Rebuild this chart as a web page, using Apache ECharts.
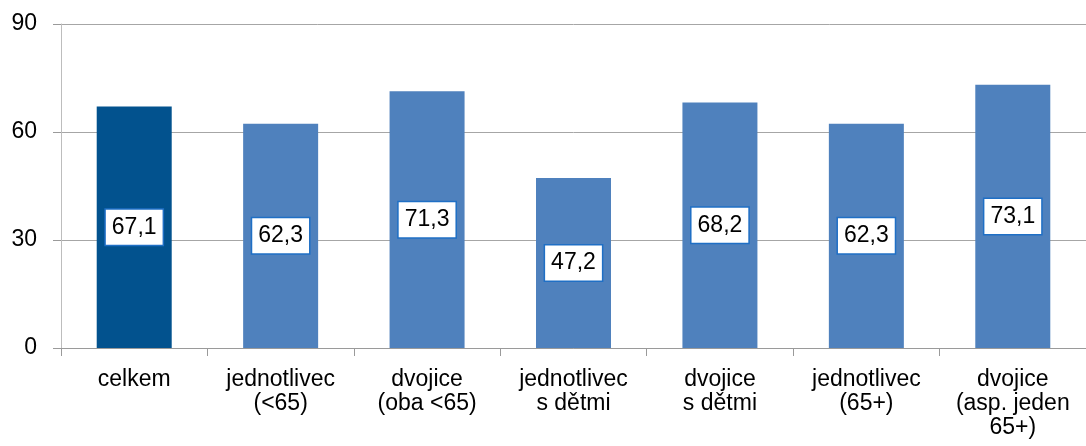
<!DOCTYPE html>
<html>
<head>
<meta charset="utf-8">
<script src="https://cdn.jsdelivr.net/npm/echarts@6/dist/echarts.min.js"></script>
<style>
html, body { margin: 0; padding: 0; background: #fff; }
#chart { width: 1086px; height: 446px; }
</style>
</head>
<body>
<div id="chart"></div>
<script>
var categories = ['celkem', 'jednotlivec\n(<65)', 'dvojice\n(oba <65)', 'jednotlivec\ns dětmi', 'dvojice\ns dětmi', 'jednotlivec\n(65+)', 'dvojice\n(asp. jeden\n65+)'];
var values = [67.1, 62.3, 71.3, 47.2, 68.2, 62.3, 73.1];
var yTicks = [0, 30, 60, 90];

var chart = echarts.init(document.getElementById('chart'));

var data = [];
for (var i = 0; i < values.length; i++) {
    data.push({
        value: values[i],
        itemStyle: { color: i == 0 ? '#02528E' : '#4F81BD' }
    });
}

var font = 'Liberation Sans, Arial, sans-serif';

var option = {
    animation: false,
    grid: { left: 61, right: 0, top: 24, bottom: 98 },
    xAxis: {
        type: 'category',
        data: categories,
        axisLine: { lineStyle: { color: '#9a9a9a', width: 1 } },
        axisTick: { show: true, length: 8, lineStyle: { color: '#9a9a9a' } },
        axisLabel: {
            color: '#000',
            fontFamily: font,
            fontSize: 23,
            lineHeight: 24,
            margin: 20,
            interval: 0
        }
    },
    yAxis: {
        type: 'value',
        min: yTicks[0],
        max: yTicks[yTicks.length - 1],
        interval: 30,
        axisLine: { show: true, lineStyle: { color: '#bdbdbd', width: 1 } },
        axisTick: { show: true, length: 8, lineStyle: { color: '#9a9a9a' } },
        splitLine: { lineStyle: { color: '#a6a6a6', width: 1 } },
        axisLabel: {
            color: '#000',
            fontFamily: font,
            fontSize: 23,
            margin: 24
        }
    },
    series: [{
        type: 'bar',
        data: data,
        barWidth: 75,
        label: {
            show: true,
            position: 'inside',
            formatter: function (p) {
                return String(p.value).replace('.', ',');
            },
            color: '#000',
            fontFamily: font,
            fontSize: 23,
            backgroundColor: '#fff',
            borderColor: '#1f6fc5',
            borderWidth: 1.5,
            padding: [6, 6, 6, 6]
        }
    }]
};
chart.setOption(option);
</script>
</body>
</html>
